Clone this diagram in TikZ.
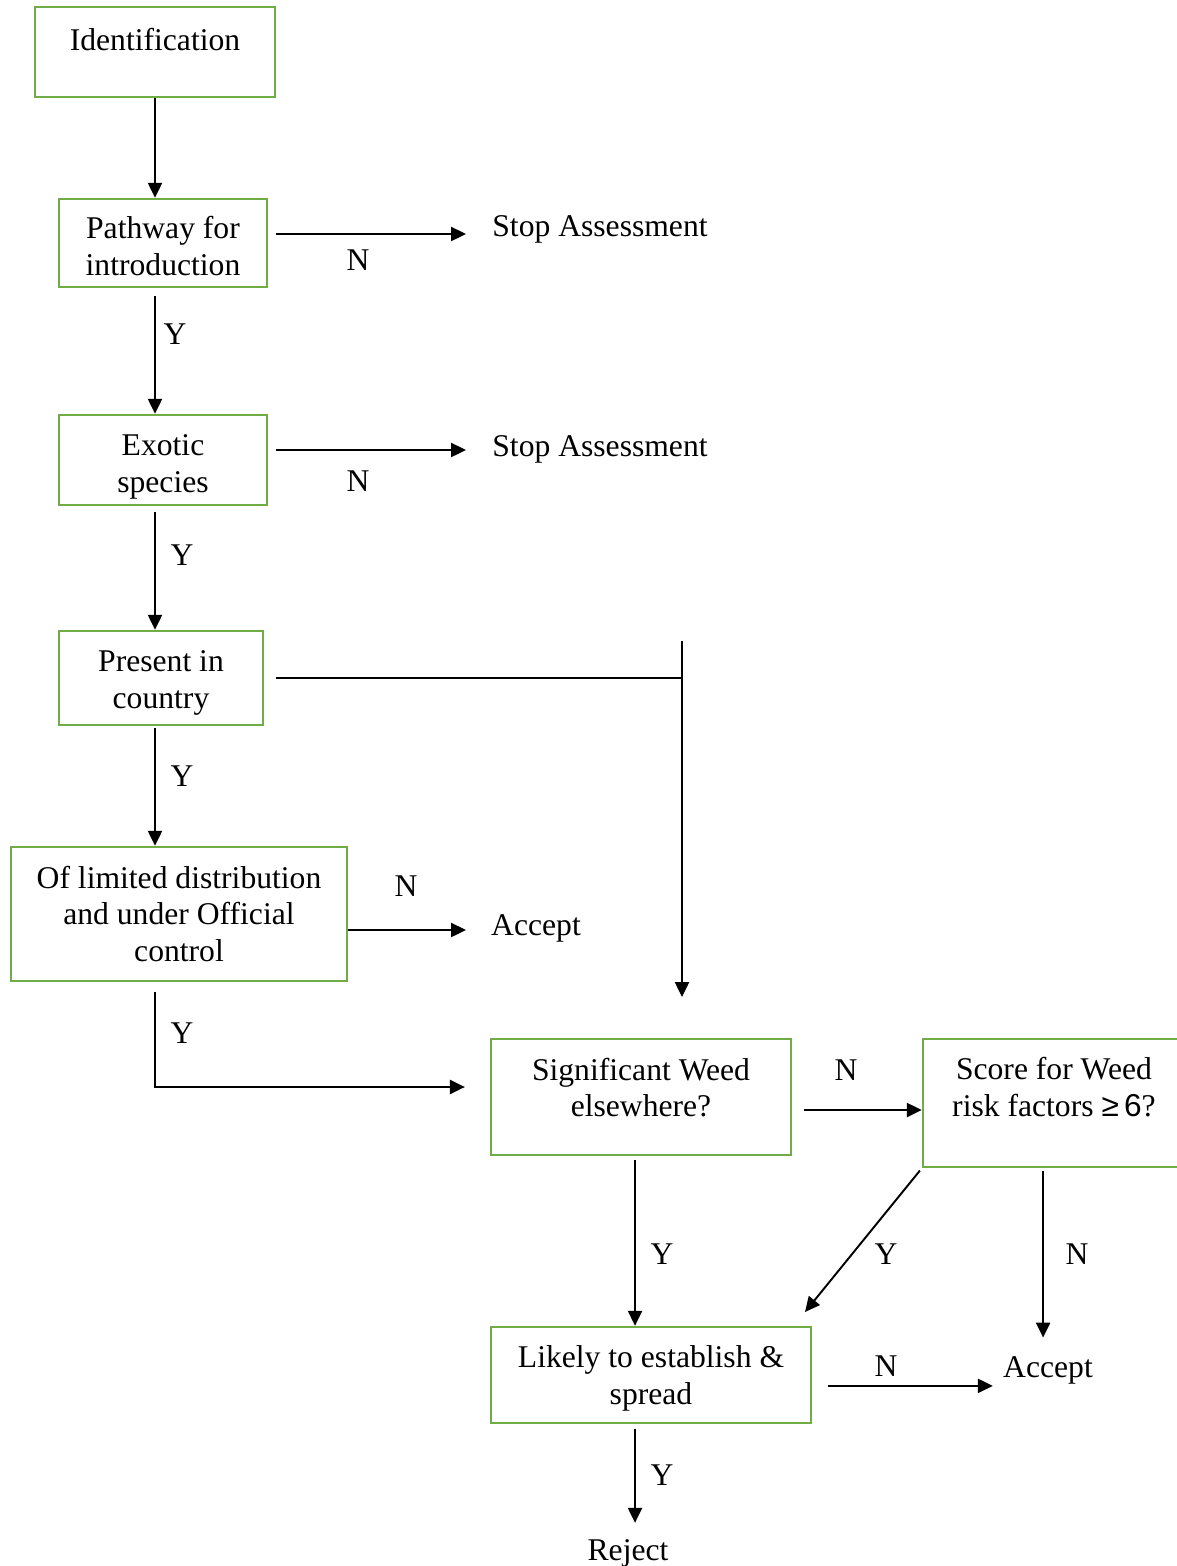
\documentclass[tikz,border=0pt]{standalone}
\usepackage{fontspec}
\setmainfont{Liberation Serif}
\setsansfont{Liberation Sans}
\definecolor{BoxGreen}{RGB}{112,173,71}
\usetikzlibrary{arrows.meta,calc}
\tikzset{
  box/.style={draw=BoxGreen,line width=1.4pt,align=center,inner sep=0pt},
  txt/.style={inner sep=0pt},
  conn/.style={line width=1.1pt},
  arr/.style={conn,-{Triangle[length=8.5pt,width=8pt]}}
}
\begin{document}
\begin{tikzpicture}[x=0.02cm,y=-0.02cm,font=\fontsize{18}{21}\selectfont]
  \useasboundingbox (0,0) rectangle (1177,1566);
  %% Boxes
  \node[box,minimum width=4.8cm,minimum height=1.8cm,text depth=14pt]
       (ident) at (155,52) {Identification};
  \node[box,minimum width=4.16cm,minimum height=1.76cm,text height=36.7pt]
       (path) at (163,243) {Pathway for\\introduction};
  \node[box,minimum width=4.16cm,minimum height=1.8cm,text height=40.9pt]
       (exotic) at (163,460) {Exotic\\species};
  \node[box,minimum width=4.08cm,minimum height=1.88cm,text height=38.6pt]
       (present) at (161,678) {Present in\\country};
  \node[box,minimum width=6.72cm,minimum height=2.68cm]
       (limited) at (179,914) {Of limited distribution\\and under Official\\control};
  \node[box,minimum width=6cm,minimum height=2.32cm,text depth=11pt]
       (sig) at (641,1097) {Significant Weed\\elsewhere?};
  \node[box,minimum width=5.24cm,minimum height=2.56cm,text depth=18pt]
       (score) at (1054,1103) {Score for Weed\\risk factors {\sffamily ≥\,6}?};
  \node[box,minimum width=6.4cm,minimum height=1.92cm,text height=37.4pt]
       (likely) at (651,1375) {Likely to establish \&\\spread};
  %% Outcomes
  \node[txt] (stopA) at (600,229) {Stop Assessment};
  \node[txt] (stopB) at (600,449) {Stop Assessment};
  \node[txt] (acceptA) at (536,928) {Accept};
  \node[txt] (acceptB) at (1048,1370) {Accept};
  \node[txt] (reject) at (628,1553) {Reject};
  %% Free arrow ends
  \coordinate (endA) at (466,234);
  \coordinate (endB) at (466,450);
  \coordinate (endC) at (466,930);
  \coordinate (joinTop) at (682,641);
  \coordinate (diagEnd) at (805,1312);
  %% Main column
  \draw[arr] (ident.south) -- (ident.south |- path.north);
  \draw[arr,shorten <=4.5pt] (ident.south |- path.south) -- (ident.south |- exotic.north);
  \draw[arr,shorten <=3.4pt] (ident.south |- exotic.south) -- (ident.south |- present.north);
  \draw[arr,shorten <=1.1pt] (ident.south |- present.south) -- (ident.south |- limited.north);
  \draw[arr,shorten <=5.7pt,shorten >=14.2pt]
       (ident.south |- limited.south) |- ([yshift=5.7pt]sig.west);
  %% Exits to the right
  \draw[arr,shorten <=4.5pt] (path.east |- endA) -- (endA);
  \draw[arr,shorten <=4.5pt] (exotic.east |- endB) -- (endB);
  \draw[arr] (limited.east |- endC) -- (endC);
  \draw[conn,shorten <=6.8pt] (present.east) -- (present.east -| joinTop);
  \draw[arr,shorten >=23.2pt] (joinTop) -- (joinTop |- sig.north);
  %% Lower part
  \draw[arr,shorten <=6.8pt] ([yshift=-7.4pt]sig.east) -- ([yshift=-7.4pt]sig.east -| score.west);
  \draw[arr,shorten <=2.3pt] ([xshift=-3.4pt]sig.south) -- ([xshift=-3.4pt]sig.south |- likely.north);
  \draw[arr,shorten <=1.7pt] (score.south west) -- (diagEnd);
  \draw[arr,shorten <=1.7pt,shorten >=10.4pt]
       ([xshift=-6.2pt]score.south) -- ([xshift=-6.2pt]score.south |- acceptB.north);
  \draw[arr,shorten <=9pt,shorten >=5.7pt]
       ([yshift=-6.2pt]likely.east) -- ([yshift=-6.2pt]likely.east -| acceptB.west);
  \draw[arr,shorten <=2.8pt,shorten >=9.1pt]
       ([xshift=-9.1pt]likely.south) -- ([xshift=-9.1pt]likely.south |- reject.north);
  %% Y / N labels
  \node[txt] (nPath) at (358,260) {N};
  \node[txt] (yPath) at (175,334) {Y};
  \node[txt] (nExotic) at (358,481) {N};
  \node[txt] (yExotic) at (182,555) {Y};
  \node[txt] (yPresent) at (182,776) {Y};
  \node[txt] (nLimited) at (406,886) {N};
  \node[txt] (yLimited) at (182,1033) {Y};
  \node[txt] (nSig) at (846,1070) {N};
  \node[txt] (ySig) at (662,1254) {Y};
  \node[txt] (yScore) at (886,1254) {Y};
  \node[txt] (nScore) at (1077,1254) {N};
  \node[txt] (nLikely) at (886,1366) {N};
  \node[txt] (yLikely) at (662,1475) {Y};
\end{tikzpicture}
\end{document}
